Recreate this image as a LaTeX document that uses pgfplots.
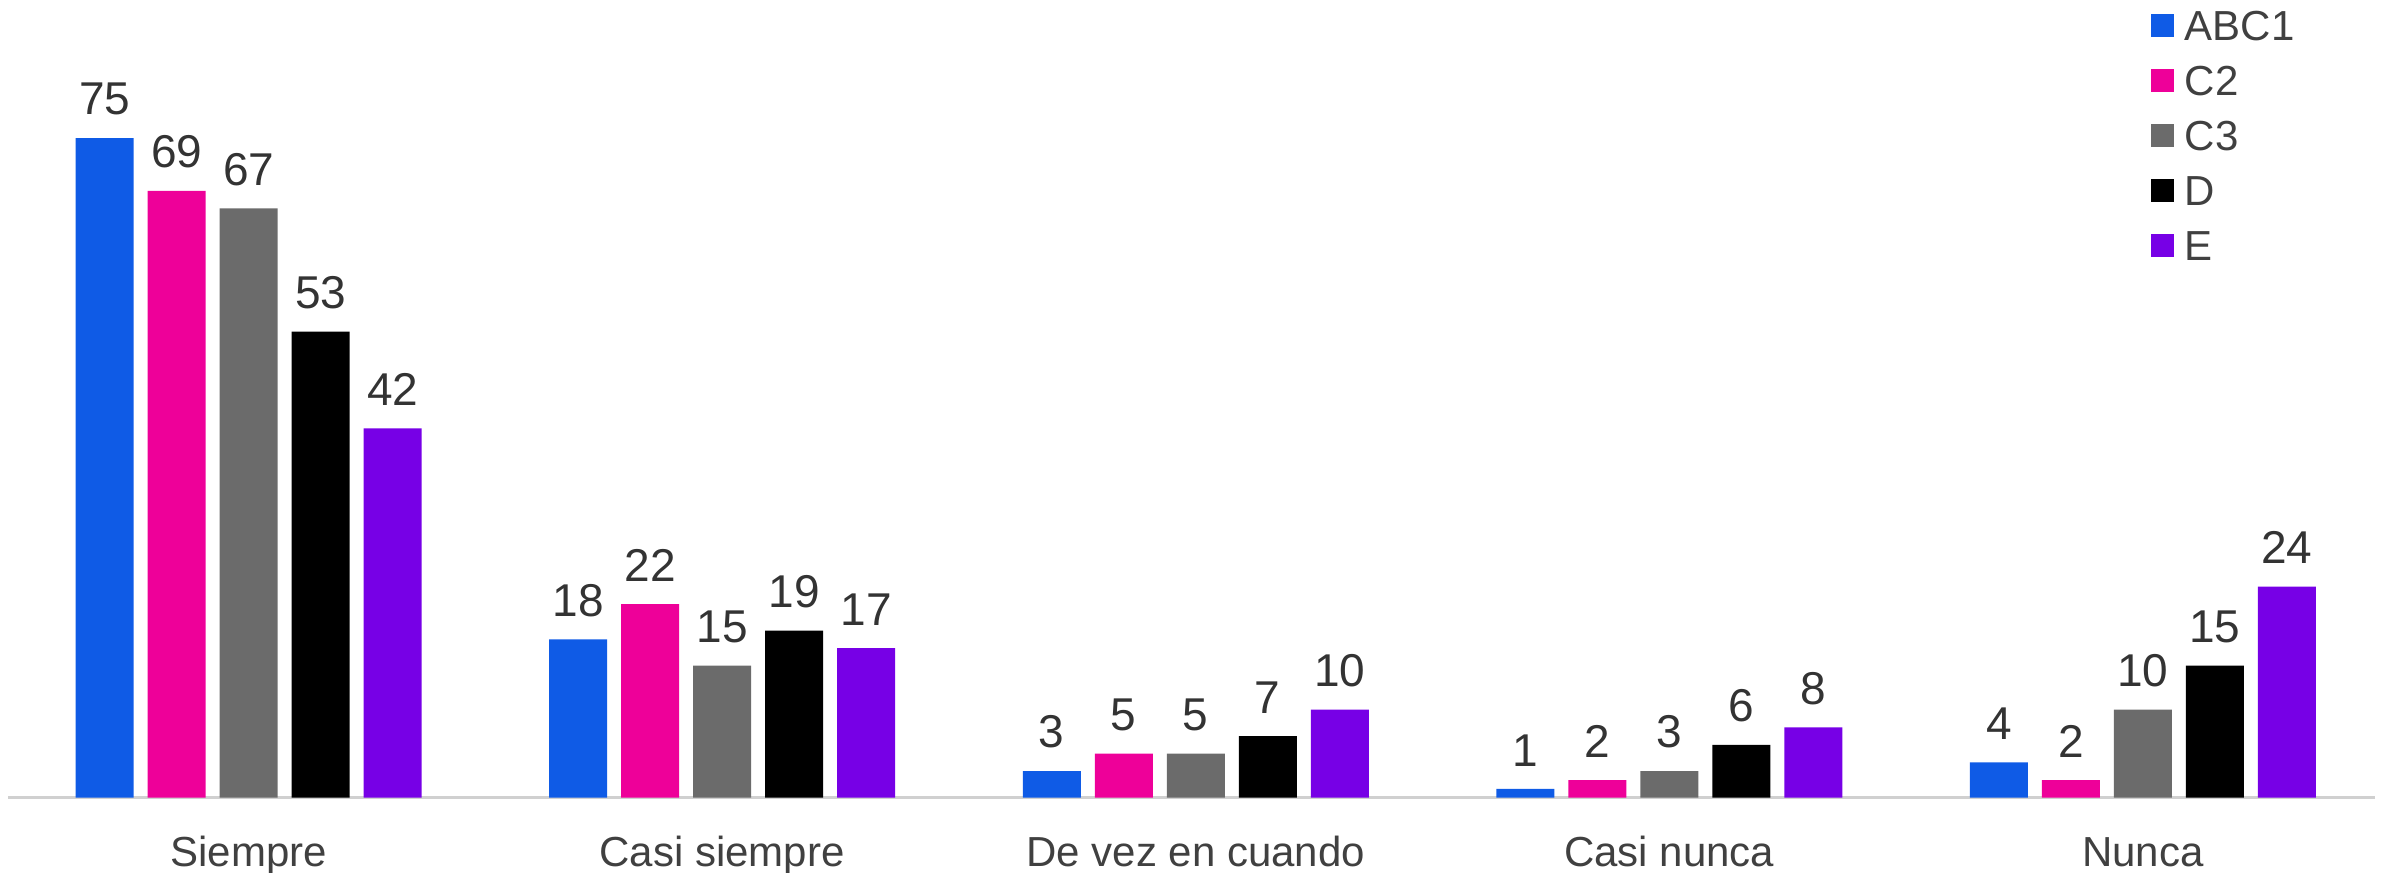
\documentclass[border=0pt]{standalone}
\usepackage{pgfplots}
\pgfplotsset{compat=1.18}
\usepackage{fontspec}
\setmainfont{Liberation Sans}

\definecolor{cABC}{HTML}{0F5BE6}
\definecolor{cCdos}{HTML}{EE0099}
\definecolor{cCtres}{HTML}{6B6B6B}
\definecolor{cD}{HTML}{000000}
\definecolor{cE}{HTML}{7700E6}
\definecolor{txt}{HTML}{404040}
\definecolor{baseline}{HTML}{D0D0D0}

\begin{document}
\begin{tikzpicture}
    \useasboundingbox (0,0) rectangle (595.5pt,218pt);
    \begin{axis}[
        at={(2pt,18.6pt)},
        anchor=south west,
        width=591.75pt,
        height=199.4pt,
        scale only axis,
        ybar=3.5pt,
        bar width=14.5pt,
        xmin=-0.508, xmax=4.49,
        ymin=0, ymax=90.7,
        enlargelimits=false,
        clip=false,
        axis x line*=bottom,
        hide y axis,
        x axis line style={-, draw=baseline, line width=0.6pt},
        xtick={0,1,2,3,4},
        xticklabels={Siempre, Casi siempre, De vez en cuando, Casi nunca, Nunca},
        major tick length=0pt,
        xticklabel style={font=\fontsize{10.5}{12}\selectfont, text=txt,
            inner sep=0pt, text height=7.6pt, text depth=2pt, yshift=-9.3pt},
        /pgf/number format/assume math mode=true,
        nodes near coords,
        every node near coord/.append style={font=\fontsize{11.5}{13}\selectfont,
            text=black!80, inner sep=0pt, yshift=5.5pt},
        legend image code/.code={\fill[#1] (0pt,-2.875pt) rectangle (5.75pt,2.875pt);
            \path (8.5pt,0pt);},
        legend style={at={(0.905,0.988)}, anchor=north west, draw=none, fill=none,
            font=\fontsize{10.5}{12}\selectfont, text=txt, row sep=6.15pt,
            inner sep=0pt, cells={anchor=west},
            nodes={inner sep=0pt, text height=7.6pt, text depth=0pt}},
        ]
        \addplot[fill=cABC, draw=none] coordinates {(0,75) (1,18) (2,3) (3,1) (4,4)};
        \addplot[fill=cCdos, draw=none] coordinates {(0,69) (1,22) (2,5) (3,2) (4,2)};
        \addplot[fill=cCtres, draw=none] coordinates {(0,67) (1,15) (2,5) (3,3) (4,10)};
        \addplot[fill=cD, draw=none] coordinates {(0,53) (1,19) (2,7) (3,6) (4,15)};
        \addplot[fill=cE, draw=none] coordinates {(0,42) (1,17) (2,10) (3,8) (4,24)};
        \legend{ABC1, C2, C3, D, E}
    \end{axis}
\end{tikzpicture}
\end{document}
